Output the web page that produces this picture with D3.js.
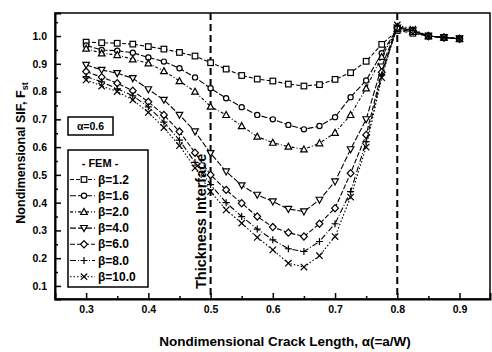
<!DOCTYPE html>
<html>
<head>
<meta charset="utf-8">
<script src="https://cdn.jsdelivr.net/npm/d3@7/dist/d3.min.js"></script>
<style>
  body { margin: 0; background: #fff; }
  svg { display: block; font-family: "Liberation Sans", Arial, sans-serif; font-weight: bold; }
</style>
</head>
<body>
<svg id="chart" width="492" height="352"></svg>
<script>
// crack length a/W
const alphas = [0.3, 0.325, 0.35, 0.375, 0.4, 0.425, 0.45, 0.475, 0.5, 0.525, 0.55, 0.575, 0.6,
                0.625, 0.65, 0.675, 0.7, 0.725, 0.75, 0.775, 0.8, 0.825, 0.85, 0.875, 0.9];

const b12 = [0.978, 0.976, 0.974, 0.971, 0.962, 0.953, 0.941, 0.928, 0.904, 0.881, 0.858, 0.845, 0.838,
             0.827, 0.82, 0.825, 0.844, 0.868, 0.909, 0.97, 1.02, 1.01, 1.0, 0.995, 0.99];
const b16 = [0.966, 0.95, 0.947, 0.94, 0.923, 0.908, 0.884, 0.851, 0.812, 0.776, 0.744, 0.716, 0.70,
             0.68, 0.664, 0.676, 0.708, 0.78, 0.84, 0.938, 1.025, 1.015, 1.0, 0.995, 0.99];
const b20 = [0.955, 0.938, 0.932, 0.916, 0.902, 0.874, 0.838, 0.80, 0.746, 0.716, 0.676, 0.638, 0.616,
             0.602, 0.592, 0.614, 0.652, 0.716, 0.812, 0.925, 1.025, 1.015, 1.0, 0.995, 0.99];
const b40 = [0.896, 0.878, 0.866, 0.848, 0.808, 0.77, 0.716, 0.656, 0.578, 0.512, 0.462, 0.428, 0.404,
             0.377, 0.368, 0.41, 0.476, 0.592, 0.70, 0.89, 1.03, 1.02, 1.0, 0.995, 0.99];
const b60 = [0.872, 0.852, 0.83, 0.803, 0.763, 0.716, 0.656, 0.58, 0.50, 0.446, 0.398, 0.35, 0.312,
             0.292, 0.278, 0.324, 0.38, 0.506, 0.644, 0.87, 1.03, 1.02, 1.0, 0.995, 0.99];
const b80 = [0.854, 0.835, 0.81, 0.785, 0.745, 0.69, 0.625, 0.545, 0.465, 0.40, 0.35, 0.305, 0.266,
             0.234, 0.224, 0.26, 0.324, 0.44, 0.62, 0.86, 1.035, 1.02, 1.0, 0.995, 0.99];
const b100 = [0.842, 0.82, 0.80, 0.77, 0.725, 0.67, 0.605, 0.525, 0.44, 0.374, 0.326, 0.275, 0.23,
              0.182, 0.168, 0.209, 0.278, 0.42, 0.60, 0.85, 1.04, 1.025, 1.0, 0.995, 0.99];

const seriesLabels = ["β=1.2", "β=1.6", "β=2.0", "β=4.0", "β=6.0", "β=8.0", "β=10.0"];
const seriesValues = [b12, b16, b20, b40, b60, b80, b100];
const markerKinds = ["square", "circle", "triUp", "triDown", "diamond", "plus", "cross"];
const dashes = ["4,2", "6,2", "3,2,1,2", "6,2", "5,2", "6,2,1,2", "1.5,2"];

const xTicks = [0.3, 0.4, 0.5, 0.6, 0.7, 0.8, 0.9];
const yTicks = [0.1, 0.2, 0.3, 0.4, 0.5, 0.6, 0.7, 0.8, 0.9, 1.0];
const interfaces = [0.5, 0.8];

const svg = d3.select('#chart');
const plotL = 55, plotR = 490, plotT = 13, plotB = 299;

const x = d3.scaleLinear().domain([0.25, 0.949]).range([plotL, plotR]);
const y = d3.scaleLinear().domain([0.053, 1.083]).range([plotB, plotT]);

// frame
svg.append('rect')
    .attr('x', plotL).attr('y', plotT)
    .attr('width', plotR - plotL).attr('height', plotB - plotT)
    .attr('fill', 'none').attr('stroke', '#000').attr('stroke-width', 1.5);

// axes with inward ticks
const xAxis = svg.append('g').attr('transform', `translate(0,${plotB})`)
    .call(d3.axisTop(x).tickValues(xTicks).tickSize(6).tickFormat(d3.format('.1f')));
svg.append('g').attr('transform', `translate(0,${plotB})`)
    .call(d3.axisTop(x).tickValues([0.35, 0.45, 0.55, 0.65, 0.75, 0.85]).tickSize(3).tickFormat(''))
    .select('.domain').remove();
xAxis.selectAll('text')
    .attr('y', 14).attr('dy', 0)
    .attr('font-size', 10.5).attr('font-weight', 'bold')
    .attr('font-family', '"Liberation Sans", Arial, sans-serif');

const yAxis = svg.append('g').attr('transform', `translate(${plotL},0)`)
    .call(d3.axisRight(y).tickValues(yTicks).tickSize(6).tickFormat(d3.format('.1f')));
svg.append('g').attr('transform', `translate(${plotL},0)`)
    .call(d3.axisRight(y).tickValues([0.15, 0.25, 0.35, 0.45, 0.55, 0.65, 0.75, 0.85, 0.95, 1.05]).tickSize(3).tickFormat(''))
    .select('.domain').remove();
yAxis.selectAll('text')
    .attr('x', -8).attr('text-anchor', 'end')
    .attr('font-size', 10.5).attr('font-weight', 'bold')
    .attr('font-family', '"Liberation Sans", Arial, sans-serif');

svg.selectAll('.domain').attr('stroke-width', 2);
svg.selectAll('.tick line').attr('stroke-width', 1.5);

// interface lines
svg.append('g').selectAll('line')
    .data(interfaces)
    .enter()
    .append('line')
    .attr('x1', d => x(d)).attr('x2', d => x(d))
    .attr('y1', plotT).attr('y2', plotB)
    .attr('stroke', '#000')
    .attr('stroke-width', 2)
    .attr('stroke-dasharray', '7,4');

svg.append('text')
    .attr('transform', `translate(${x(0.5) - 5},289) rotate(-90)`)
    .attr('font-size', 14.5)
    .text('Thickness Interface');

// marker drawing
function drawMarker(g, kind, cx, cy) {
    const s = 2.8;
    if (kind === 'square') {
        g.append('rect').attr('x', cx - s).attr('y', cy - s).attr('width', 2 * s).attr('height', 2 * s);
    } else if (kind === 'circle') {
        g.append('circle').attr('cx', cx).attr('cy', cy).attr('r', 2.6);
    } else if (kind === 'triUp') {
        g.append('path').attr('d', `M${cx},${cy - 3.4}L${cx + 3.3},${cy + 2.6}L${cx - 3.3},${cy + 2.6}Z`);
    } else if (kind === 'triDown') {
        g.append('path').attr('d', `M${cx},${cy + 3.4}L${cx + 3.3},${cy - 2.6}L${cx - 3.3},${cy - 2.6}Z`);
    } else if (kind === 'diamond') {
        g.append('path').attr('d', `M${cx},${cy - 3.6}L${cx + 3.4},${cy}L${cx},${cy + 3.6}L${cx - 3.4},${cy}Z`);
    } else if (kind === 'plus') {
        g.append('path').attr('d', `M${cx - 3.5},${cy}H${cx + 3.5}M${cx},${cy - 3.5}V${cy + 3.5}`);
    } else {
        g.append('path').attr('d', `M${cx - 3.2},${cy - 3.2}L${cx + 3.2},${cy + 3.2}M${cx - 3.2},${cy + 3.2}L${cx + 3.2},${cy - 3.2}`);
    }
}

const line = d3.line().x(d => x(d[0])).y(d => y(d[1]));

seriesValues.forEach((vals, i) => {
    const pts = alphas.map((a, j) => [a, vals[j]]);
    svg.append('path')
        .datum(pts)
        .attr('d', line)
        .attr('fill', 'none')
        .attr('stroke', '#000')
        .attr('stroke-width', 1.1)
        .attr('stroke-dasharray', dashes[i]);
    const mg = svg.append('g')
        .attr('fill', '#fff').attr('stroke', '#000').attr('stroke-width', 1.2);
    pts.forEach(p => drawMarker(mg, markerKinds[i], x(p[0]), y(p[1])));
});

// legend boxes
svg.append('rect')
    .attr('x', 68).attr('y', 117).attr('width', 45).attr('height', 18)
    .attr('fill', '#fff').attr('stroke', '#000').attr('stroke-width', 1.5);
svg.append('text')
    .attr('x', 90.5).attr('y', 130).attr('text-anchor', 'middle')
    .attr('font-size', 10.5).text('α=0.6');

svg.append('rect')
    .attr('x', 68).attr('y', 150).attr('width', 80).attr('height', 137)
    .attr('fill', '#fff').attr('stroke', '#000').attr('stroke-width', 1.5);
svg.append('text')
    .attr('x', 100).attr('y', 167).attr('text-anchor', 'middle')
    .attr('font-size', 11).text('- FEM -');

seriesLabels.forEach((lab, i) => {
    const ly = 179.5 + i * 16.2;
    svg.append('line')
        .attr('x1', 70).attr('x2', 95).attr('y1', ly).attr('y2', ly)
        .attr('stroke', '#000').attr('stroke-width', 1.1)
        .attr('stroke-dasharray', dashes[i]);
    const mg = svg.append('g')
        .attr('fill', '#fff').attr('stroke', '#000').attr('stroke-width', 1.2);
    drawMarker(mg, markerKinds[i], 84, ly);
    svg.append('text')
        .attr('x', 98).attr('y', ly + 4)
        .attr('font-size', 12).text(lab);
});

// axis titles
svg.append('text')
    .attr('x', 285).attr('y', 346).attr('text-anchor', 'middle')
    .attr('font-size', 13.5)
    .text('Nondimensional Crack Length, α(=a/W)');

const yt = svg.append('text')
    .attr('transform', 'translate(25,153) rotate(-90)')
    .attr('text-anchor', 'middle')
    .attr('font-size', 12.5);
yt.append('tspan').text('Nondimensional SIF, F');
yt.append('tspan').attr('font-size', 9).attr('dy', 3).text('st');
</script>
</body>
</html>
